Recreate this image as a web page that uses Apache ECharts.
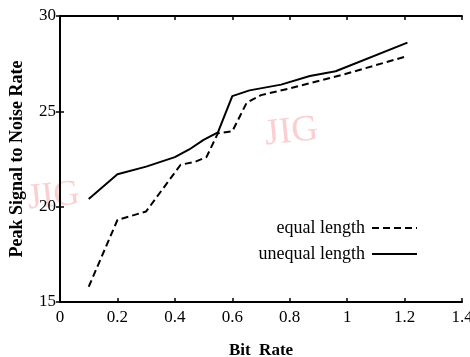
<!DOCTYPE html>
<html>
<head>
<meta charset="utf-8">
<script src="https://cdn.jsdelivr.net/npm/echarts@6/dist/echarts.min.js"></script>
<style>html,body{margin:0;padding:0;background:#fff}#c{width:470px;height:357px}</style>
</head>
<body>
<div id="c"></div>
<script>
// Data
var equalX = [0.1, 0.2, 0.3, 0.42, 0.47, 0.51, 0.55, 0.6, 0.65, 0.7, 0.8, 0.98, 1.21];
var equalY = [15.8, 19.3, 19.75, 22.2, 22.35, 22.6, 23.85, 23.95, 25.45, 25.85, 26.2, 26.9, 27.9];
var unequalX = [0.1, 0.2, 0.3, 0.4, 0.45, 0.5, 0.55, 0.6, 0.66, 0.77, 0.87, 0.96, 1.21];
var unequalY = [20.4, 21.7, 22.1, 22.6, 23.0, 23.5, 23.9, 25.8, 26.1, 26.4, 26.85, 27.1, 28.6];
var seriesNames = ['equal length', 'unequal length'];
var xTitle = 'Bit  Rate';
var yTitle = 'Peak Signal to Noise Rate';
var watermark = 'JIG';

function pairs(xs, ys){ return xs.map(function(x,i){ return [x, ys[i]]; }); }

var font = '"Liberation Serif", "DejaVu Serif", serif';
var chart = echarts.init(document.getElementById('c'), null, {renderer:'canvas'});
var axisLine = {show:true, lineStyle:{color:'#000', width:2}};
var tick = {inside:true, length:4, lineStyle:{color:'#000', width:1.5}};
chart.setOption({
  animation:false,
  backgroundColor:'#fff',
  grid:{left:60, right:8, top:16, bottom:55, containLabel:false, outerBoundsMode:'none'},
  legend:{
    right:47, top:214, orient:'vertical', align:'right',
    itemWidth:45, itemHeight:14, itemGap:8,
    textStyle:{fontFamily:font, fontSize:18, color:'#000', padding:[0,2,0,0]},
    itemStyle:{opacity:0},
    data:seriesNames
  },
  graphic:[
    {type:'text', left:26, top:176, rotation:0.1, style:{text:watermark, font:'36px ' + font, fill:'rgba(245,140,140,0.42)'}},
    {type:'text', left:263, top:111, rotation:0.1, style:{text:watermark, font:'37px ' + font, fill:'rgba(245,140,140,0.42)'}}
  ],
  xAxis:[{
    type:'value', min:0, max:1.4, interval:0.2,
    name:xTitle, nameLocation:'middle', nameGap:40,
    nameTextStyle:{fontFamily:font, fontSize:17, fontWeight:'bold', color:'#000'},
    axisLine:axisLine, axisTick:tick,
    axisLabel:{fontFamily:font, fontSize:17, color:'#000', margin:7},
    splitLine:{show:false}
  },{
    type:'value', position:'top', min:0, max:1.4, interval:0.2,
    axisLine:axisLine, axisTick:tick,
    axisLabel:{show:false}, splitLine:{show:false}
  }],
  yAxis:[{
    type:'value', min:15, max:30, interval:5,
    name:yTitle, nameLocation:'middle', nameGap:34,
    nameTextStyle:{fontFamily:font, fontSize:18, fontWeight:'bold', color:'#000'},
    axisLine:axisLine, axisTick:tick,
    axisLabel:{fontFamily:font, fontSize:17, color:'#000', margin:4},
    splitLine:{show:false}
  },{
    type:'value', position:'right', min:15, max:30, interval:5,
    axisLine:axisLine, axisTick:tick,
    axisLabel:{show:false}, splitLine:{show:false}
  }],
  series:[{
    name:seriesNames[0], type:'line', symbol:'none', data:pairs(equalX, equalY),
    lineStyle:{color:'#000', width:2, type:[7,4]}, itemStyle:{color:'#000'}
  },{
    name:seriesNames[1], type:'line', symbol:'none', data:pairs(unequalX, unequalY),
    lineStyle:{color:'#000', width:2, type:'solid'}, itemStyle:{color:'#000'}
  }]
});
</script>
</body>
</html>
